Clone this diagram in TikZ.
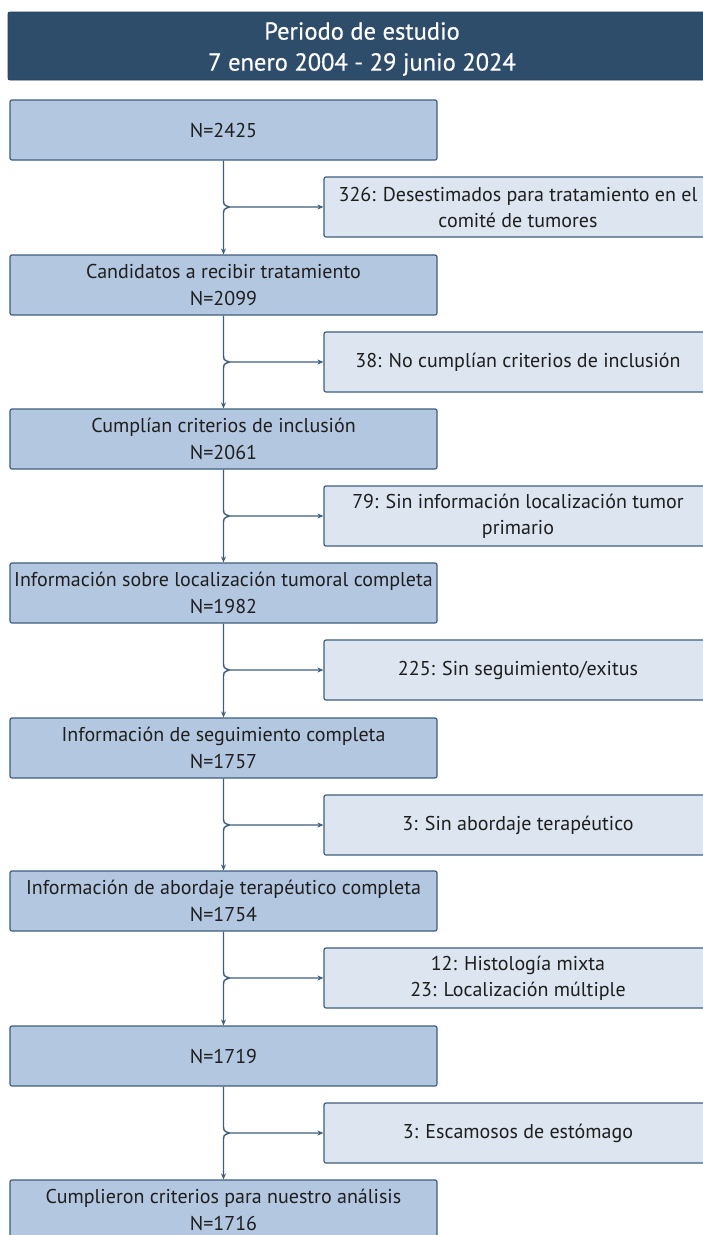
\documentclass[tikz,border=0pt]{standalone}
\usepackage{fontspec}
\setmainfont{PT Sans}
\newfontfamily\hdrfont[FakeBold=0.6]{PT Sans}
\usetikzlibrary{arrows.meta}
\definecolor{hdr}{HTML}{2E4D6B}
\definecolor{mainfill}{HTML}{B4C7E1}
\definecolor{sidefill}{HTML}{DCE5F0}
\definecolor{edge}{HTML}{3F5E7E}
\definecolor{txt}{HTML}{1E1E1E}
\begin{document}
\begin{tikzpicture}[x=1pt,y=-1pt,
  hdrbox/.style={fill=hdr, draw=hdr!80!black, line width=0.8pt, rounded corners=2pt, minimum width=708pt, minimum height=68pt, inner sep=0pt},
  hdrtext/.style={align=center, text=white, font=\hdrfont\fontsize{24.5}{31}\selectfont, inner sep=0pt},
  mainbox/.style={draw=edge, fill=mainfill, line width=1.2pt, rounded corners=2pt, minimum width=427pt, minimum height=60pt, align=center, text=txt, font=\fontsize{20}{27}\selectfont, inner sep=0pt},
  sidebox/.style={draw=edge, fill=sidefill, line width=1.2pt, rounded corners=2pt, minimum width=388pt, minimum height=60pt, align=center, text=txt, font=\fontsize{20}{26}\selectfont, inner sep=0pt},
  conn/.style={draw=edge, line width=1.4pt, -{Stealth[length=6pt,width=5pt]}}
]
\useasboundingbox (0,0) rectangle (703,1235);
\node[hdrbox] (h) at (362,46) {};
\node[hdrtext] (ht) at (362,49) {Periodo de estudio\\7 enero 2004 - 29 junio 2024};

\node[mainbox] (b1) at (223.5,130) {N=2425};
\node[mainbox] (b2) at (223.5,285) {Candidatos a recibir tratamiento\\N=2099};
\node[mainbox] (b3) at (223.5,439) {Cumplían criterios de inclusión\\N=2061};
\node[mainbox] (b4) at (223.5,593) {Información sobre localización tumoral completa\\N=1982};
\node[mainbox] (b5) at (223.5,748) {Información de seguimiento completa\\N=1757};
\node[mainbox] (b6) at (223.5,901) {Información de abordaje terapéutico completa\\N=1754};
\node[mainbox] (b7) at (223.5,1056) {N=1719};
\node[mainbox] (b8) at (223.5,1210) {Cumplieron criterios para nuestro análisis\\N=1716};

\node[sidebox] (s1) at (518,207) {326: Desestimados para tratamiento en el\\comité de tumores};
\node[sidebox] (s2) at (518,362) {38: No cumplían criterios de inclusión};
\node[sidebox] (s3) at (518,516) {79: Sin información localización tumor\\primario};
\node[sidebox] (s4) at (518,670) {225: Sin seguimiento/exitus};
\node[sidebox] (s5) at (518,825) {3: Sin abordaje terapéutico};
\node[sidebox] (s6) at (518,978) {12: Histología mixta\\23: Localización múltiple};
\node[sidebox] (s7) at (518,1133) {3: Escamosos de estómago};

\foreach \a/\s/\b in {b1/s1/b2, b2/s2/b3, b3/s3/b4, b4/s4/b5, b5/s5/b6, b6/s6/b7, b7/s7/b8}{
  \coordinate (j\s) at (\a.south |- \s.west);
  \draw[conn] (\a.south) -- ([yshift=9pt]j\s) .. controls ([yshift=2pt]j\s) .. ([xshift=6pt]j\s) -- (\s.west);
  \draw[conn] ([xshift=6pt]j\s) .. controls ([yshift=-2pt]j\s) .. ([yshift=-9pt]j\s) -- (\b.north);
}
\end{tikzpicture}
\end{document}
